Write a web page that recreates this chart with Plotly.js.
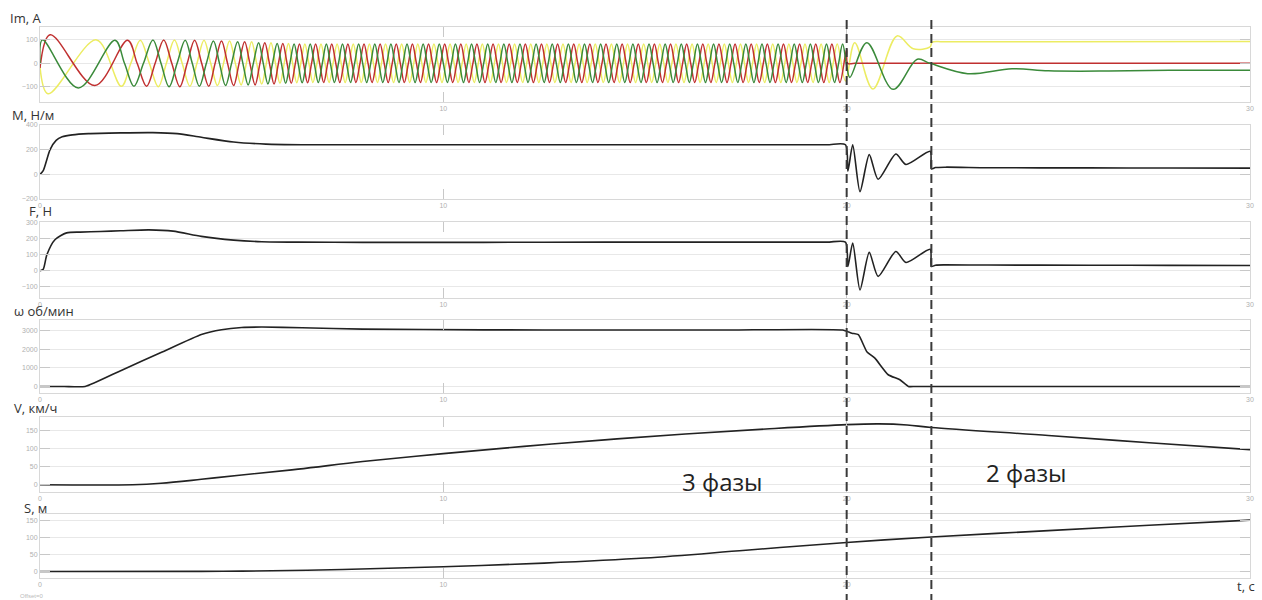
<!DOCTYPE html>
<html><head><meta charset="utf-8">
<script src="https://cdn.plot.ly/plotly-3.0.1.min.js"></script>
<style>html,body{margin:0;padding:0;background:#fff}#chart{width:1262px;height:600px}</style>
</head><body><div id="chart"></div>
<script>
// ---------- DATA ----------
// Phase currents Im, A : early transient extrema
const greenEarlyT = [0, 0.06, 0.95];
const greenEarlyV = [0, 100, -105];
const redEarlyT = [0, 0.25, 1.36];
const redEarlyV = [-20, 122, -95];
const yellowEarlyT = [0, 0.2, 1.4];
const yellowEarlyV = [-15, -130, 100];
// times of green phase positive peaks while 3 phases are fed, and their amplitudes
const greenPeakT = [1.86, 2.80, 3.60, 4.30, 4.90, 5.42, 5.88, 6.30, 6.70,
  7.10, 7.50, 7.90, 8.30, 8.70, 9.10, 9.50, 9.90, 10.30, 10.70, 11.10, 11.50,
  11.90, 12.30, 12.70, 13.10, 13.50, 13.90, 14.30, 14.70, 15.10, 15.50, 15.90,
  16.30, 16.70, 17.10, 17.50, 17.90, 18.30, 18.70, 19.10, 19.50, 19.90];
const greenPeakA = [98, 100, 98, 95, 92, 88, 85, 83, 82,
  82, 82, 82, 82, 82, 82, 82, 82, 82, 82, 82, 82,
  82, 82, 82, 82, 82, 82, 82, 82, 82, 82, 82,
  82, 82, 82, 82, 82, 82, 82, 82, 82, 82];
// after the phase loss
const greenFaultT = [20.0, 20.08, 20.5, 21.15, 21.75, 22.07, 23.0, 24.1, 25.0, 26.5, 28.0, 30.0];
const greenFaultV = [-10, -60, 88, -111, 17, 0, -44, -23, -32, -33, -30, -30];
const redFaultT = [20.0, 20.025, 20.2, 25.0, 30.0];
const redFaultV = [60, 0, 0, 0, 0];
const yellowFaultT = [19.97, 20.2, 20.65, 21.25, 21.65, 22.07, 22.12, 22.4, 25.0, 30.0];
const yellowFaultV = [-75, 88, -110, 117, 62, 70, 90, 92, 92, 93];

// Torque M, Н/м
const mT = [0, 0.08, 0.25, 0.4, 0.55, 0.8, 1.2, 2.0, 2.8, 3.4, 4.0, 4.8, 5.6, 6.5, 8.0, 11.0, 14.0, 17.0, 19.5, 19.97,
  20.03, 20.15, 20.33, 20.56, 20.78, 21.22, 21.47, 22.07, 22.1, 22.2, 22.45, 23.5, 26.0, 28.0, 30.0];
const mV = [0, 30, 200, 275, 304, 320, 330, 336, 338, 330, 300, 262, 245, 240, 240, 240, 240, 240, 240, 240,
  26, 240, -141, 160, -40, 165, 80, 187, 45, 55, 58, 54, 52, 51, 50];
// Force F, Н
const fT = [0, 0.08, 0.17, 0.37, 0.66, 1.0, 1.5, 2.0, 2.7, 3.3, 4.0, 4.8, 5.5, 6.4, 8.0, 11.0, 14.0, 17.0, 19.5, 19.97,
  20.03, 20.15, 20.33, 20.56, 20.78, 21.22, 21.47, 22.07, 22.1, 22.2, 22.45, 23.5, 26.0, 28.0, 30.0];
const fV = [0, 10, 100, 194, 237, 242, 246, 250, 256, 248, 215, 192, 182, 179, 178, 178, 179, 179, 179, 179,
  27, 173, -119, 115, -35, 121, 52, 135, 27, 35, 37, 36, 35, 34, 33];
// Speed ω, об/мин
const wT = [0, 0.6, 1.12, 2.0, 3.0, 4.0, 4.5, 5.0, 5.5, 6.5, 8.0, 11.0, 14.0, 17.0, 19.9,
  20.13, 20.29, 20.5, 20.7, 21.03, 21.32, 21.53, 21.7, 23.0, 26.0, 30.0];
const wV = [0, 0, 0, 850, 1820, 2790, 3050, 3170, 3190, 3150, 3080, 3040, 3030, 3030, 3030,
  2860, 2780, 1870, 1520, 630, 360, 0, 0, 0, 0, 0];
// Velocity V, км/ч
const vT = [0, 2.3, 3.0, 4.0, 5.0, 6.4, 8.0, 10.0, 12.0, 14.0, 16.0, 18.0, 20.0, 20.8, 21.5, 22.1, 25.0, 27.5, 30.0];
const vV = [0, 0, 4, 15, 27, 43, 64, 86, 106, 124, 140, 154, 166, 168, 165, 158, 136, 116, 97];
// Distance S, м
const sT = [0, 4.0, 5.0, 7.5, 10.0, 12.5, 15.0, 17.5, 20.0, 22.1, 25.0, 27.5, 30.0];
const sV = [0, 0.5, 1.2, 6, 14, 25, 40, 63, 86, 102, 121, 137, 152];

// tick labels
const xTickVals = [0, 10, 20, 30];
const xTickText = ['0', '10', '20', '30'];
const xTickValsTop = [10, 20, 30];             // the top "0" is hidden under "M, Н/м"
const xTickTextTop = ['10', '20', '30'];
const xTickValsBottom = [0, 10, 20];           // the bottom "30" is hidden under "t, c"
const xTickTextBottom = ['0', '10', '20'];
const yTickVals = [[-100, 0, 100], [-200, 0, 200, 400], [-100, 0, 100, 200, 300],
  [0, 1000, 2000, 3000], [0, 50, 100, 150], [0, 50, 100, 150]];
const panelLabels = ['Im, A', 'M, Н/м', 'F, Н', 'ω об/мин', 'V, км/ч', 'S, м'];
const faultTimes = [20, 22.1];
const phaseNotes = ['3 фазы', '2 фазы'];

// ---------- build phase curves ----------
function phase(earlyT, earlyV, off, fT_, fV_, addFinal) {
  const t = earlyT.slice(), v = earlyV.slice();
  const ext = [];
  for (let i = 0; i < greenPeakT.length - 1; i++) {
    const T = greenPeakT[i + 1] - greenPeakT[i];
    const A = greenPeakA[i];
    const pair = [[greenPeakT[i] + off * T, A], [greenPeakT[i] + ((off + 0.5) % 1) * T, -A]];
    pair.sort((a, b) => a[0] - b[0]);
    ext.push(pair[0], pair[1]);
  }
  if (addFinal) { const n = greenPeakT.length - 1; ext.push([greenPeakT[n], greenPeakA[n]]); }
  for (let k = 0; k < ext.length; k++) {
    if (k > 0) { t.push((ext[k - 1][0] + ext[k][0]) / 2); v.push(0); }
    t.push(ext[k][0]); v.push(ext[k][1]);
  }
  return {t: t.concat(fT_), v: v.concat(fV_)};
}
const G = phase(greenEarlyT, greenEarlyV, 0, greenFaultT, greenFaultV, true);
const R = phase(redEarlyT, redEarlyV, 1 / 3, redFaultT, redFaultV, false);
const Y = phase(yellowEarlyT, yellowEarlyV, 2 / 3, yellowFaultT, yellowFaultV, false);

const black = '#222';
const traces = [
  {x: Y.t, y: Y.v, xaxis: 'x', yaxis: 'y', mode: 'lines', line: {color: '#ecec62', width: 1.5, shape: 'spline'}},
  {x: R.t, y: R.v, xaxis: 'x', yaxis: 'y', mode: 'lines', line: {color: '#c03030', width: 1.5, shape: 'spline'}},
  {x: G.t, y: G.v, xaxis: 'x', yaxis: 'y', mode: 'lines', line: {color: '#3a8a3a', width: 1.5, shape: 'spline'}},
  {x: mT, y: mV, xaxis: 'x2', yaxis: 'y2', mode: 'lines', line: {color: black, width: 1.6, shape: 'spline', smoothing: 0.7}},
  {x: fT, y: fV, xaxis: 'x3', yaxis: 'y3', mode: 'lines', line: {color: black, width: 1.6, shape: 'spline', smoothing: 0.7}},
  {x: wT, y: wV, xaxis: 'x4', yaxis: 'y4', mode: 'lines', line: {color: black, width: 1.6, shape: 'spline', smoothing: 0.5}},
  {x: vT, y: vV, xaxis: 'x5', yaxis: 'y5', mode: 'lines', line: {color: black, width: 1.6, shape: 'spline'}},
  {x: sT, y: sV, xaxis: 'x6', yaxis: 'y6', mode: 'lines', line: {color: black, width: 1.6, shape: 'spline'}}
];

const domains = [[0.83, 0.955], [0.6683, 0.7917], [0.5033, 0.63], [0.345, 0.4667], [0.18, 0.305], [0.0367, 0.1433]];
const yRanges = [[-165, 155], [-200, 400], [-170, 305], [-350, 3570], [-20, 187], [-19, 170]];
const labelY = [18, 115, 211, 311, 408, 508];
const labelX = [8, 10, 27, 12, 12, 22];

const layout = {
  width: 1262, height: 600, showlegend: false,
  paper_bgcolor: '#fff', plot_bgcolor: '#fff',
  margin: {l: 40, r: 12, t: 0, b: 0},
  font: {family: 'Liberation Sans, Arial, sans-serif'},
  annotations: [], shapes: []
};
for (let i = 0; i < 6; i++) {
  const s = i === 0 ? '' : String(i + 1);
  const tv = i === 0 ? xTickValsTop : (i === 5 ? xTickValsBottom : xTickVals);
  const tt = i === 0 ? xTickTextTop : (i === 5 ? xTickTextBottom : xTickText);
  layout['xaxis' + s] = {
    anchor: 'y' + s, domain: [0, 1], range: [0, 30], tickvals: tv, ticktext: tt,
    ticks: 'inside', ticklen: 10, tickcolor: '#c8c8c8', showgrid: false, zeroline: false,
    showline: true, linecolor: '#d8d8d8', mirror: 'ticks', tickfont: {size: 7, color: '#b0b0b0'}
  };
  layout['yaxis' + s] = {
    anchor: 'x' + s, domain: domains[i], range: yRanges[i], tickvals: yTickVals[i],
    ticks: 'inside', ticklen: 10, tickcolor: '#c8c8c8', showgrid: true, gridcolor: '#e8e8e8',
    zeroline: false, showline: true, linecolor: '#d8d8d8', mirror: 'ticks',
    tickfont: {size: 7, color: '#b0b0b0'}
  };
  layout.annotations.push({
    text: panelLabels[i], xref: 'paper', yref: 'paper', x: (labelX[i] - 40) / 1210, y: 1 - labelY[i] / 600,
    xanchor: 'left', yanchor: 'middle', showarrow: false, font: {size: 13, color: '#333', family: 'Open Sans, sans-serif'}
  });
}
faultTimes.forEach(ft => layout.shapes.push({
  type: 'line', xref: 'x', yref: 'paper', x0: ft, x1: ft, y0: 1 - 20 / 600, y1: 0,
  line: {color: '#3a3a3a', width: 2, dash: '9px,5px'}
}));
layout.annotations.push(
  {text: phaseNotes[0], xref: 'paper', yref: 'paper', x: (722 - 40) / 1210, y: 1 - 481 / 600,
    xanchor: 'center', yanchor: 'middle', showarrow: false,
    font: {size: 24, color: '#222', family: 'Open Sans, sans-serif'}},
  {text: phaseNotes[1], xref: 'paper', yref: 'paper', x: (1026 - 40) / 1210, y: 1 - 472 / 600,
    xanchor: 'center', yanchor: 'middle', showarrow: false,
    font: {size: 24, color: '#222', family: 'Open Sans, sans-serif'}},
  {text: 't, c', xref: 'paper', yref: 'paper', x: (1246 - 40) / 1210, y: 1 - 586 / 600,
    xanchor: 'center', yanchor: 'middle', showarrow: false,
    font: {size: 13, color: '#333', family: 'Open Sans, sans-serif'}},
  {text: 'Offset=0', xref: 'paper', yref: 'paper', x: (18 - 40) / 1210, y: 1 - 596 / 600,
    xanchor: 'left', yanchor: 'middle', showarrow: false, font: {size: 6, color: '#bbb'}}
);
Plotly.newPlot('chart', traces, layout, {displayModeBar: false, staticPlot: true});
</script></body></html>
